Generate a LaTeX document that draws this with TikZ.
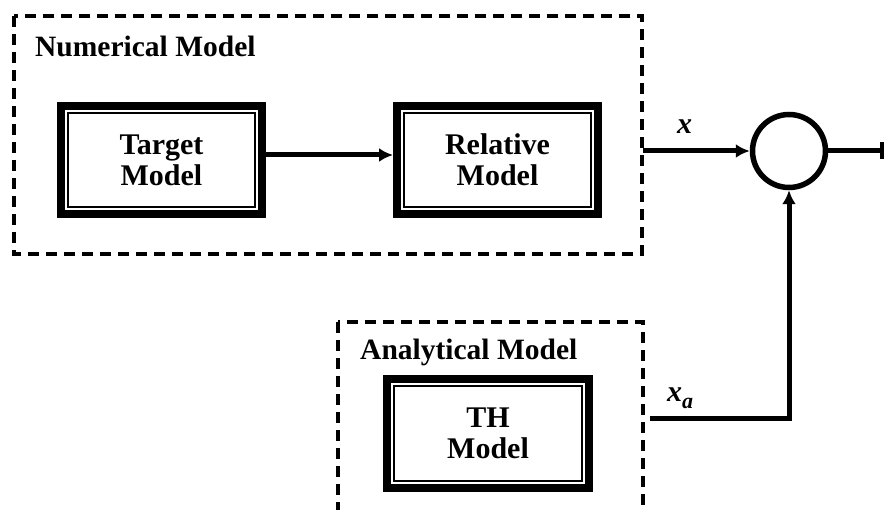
\documentclass[tikz,border=0pt]{standalone}
\usepackage{fontspec}
\setmainfont{Liberation Serif}
\usetikzlibrary{arrows.meta}
\tikzset{
  dashbox/.style={draw=black, line width=3.2pt, dash pattern=on 11pt off 7pt},
  modelbox/.style={draw=black, line width=8pt, fill=white, minimum width=201pt, minimum height=108pt,
    align=center, inner sep=0pt, font=\fontsize{30}{31}\selectfont\bfseries,
    path picture={\draw[line width=2pt] ([shift={(7pt,-7pt)}]path picture bounding box.north west) rectangle ([shift={(-7pt,7pt)}]path picture bounding box.south east);}},
  grouplabel/.style={anchor=base west, inner sep=0pt, font=\fontsize{29.5}{31}\selectfont\bfseries},
  siglabel/.style={anchor=base west, inner sep=0pt, font=\fontsize{30}{31}\selectfont\bfseries\itshape},
  conn/.style={line width=5pt, -{Latex[length=14pt,width=14pt]}},
  sumnode/.style={circle, draw=black, line width=5.5pt, minimum size=73pt, inner sep=0pt}
}
\begin{document}
\begin{tikzpicture}[x=1pt,y=-1pt]
\clip (0,0) rectangle (886,510);
\useasboundingbox (0,0) rectangle (886,510);
% groups
\draw[dashbox] (14,16) rectangle (642,254);
\draw[dashbox] (338,322) rectangle (643,540);
\node[grouplabel] (numlab) at (35,57) {Numerical Model};
\node[grouplabel] (analab) at (360,360) {Analytical Model};
% models
\node[modelbox] (tgt) at (161.5,160) {Target\\Model};
\node[modelbox] (rel) at (497.5,160) {Relative\\Model};
\node[modelbox, minimum width=202pt, minimum height=109pt] (th) at (488,433.5) {TH\\Model};
% sum
\node[sumnode] (sum) at (789,151) {};
\coordinate (xout) at (643,151);
\coordinate (xaout) at (650,418);
\coordinate (corner) at (789,418);
\coordinate (outend) at (884,151);
% connectors
\draw[conn] ([yshift=5pt]tgt.east) -- ([yshift=5pt]rel.west);
\draw[conn] (xout) -- (sum.west);
\draw[line width=5pt, -{Bar[width=17pt,line width=4pt]}] (sum.east) -- (outend);
\draw[conn] (xaout) -- (corner) -- (sum.south);
% labels
\node[siglabel] (xlab) at (677,134) {x};
\node[siglabel] (xalab) at (667,401) {x\raisebox{-0.25em}{\fontsize{22}{22}\selectfont a}};
\end{tikzpicture}
\end{document}
